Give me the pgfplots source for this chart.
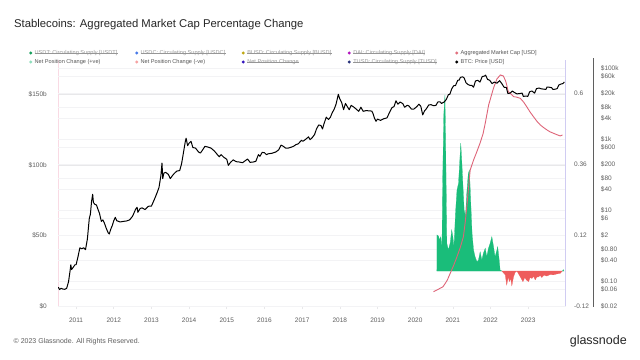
\documentclass[border=0pt]{standalone}
\usepackage{pgfplots}
\pgfplotsset{compat=1.18}
\usepackage{fontspec}
\setmainfont{Liberation Sans}
\definecolor{tickgray}{RGB}{95,95,95}
\definecolor{gridgray}{RGB}{232,232,234}
\definecolor{gridlight}{RGB}{243,243,245}
\definecolor{netpos}{RGB}{26,189,122}
\definecolor{netneg}{RGB}{238,92,92}
\definecolor{aggline}{RGB}{222,100,120}
\definecolor{axpurple}{RGB}{208,204,242}
\definecolor{axpink}{RGB}{249,218,228}
\definecolor{legtext}{RGB}{85,85,85}
\definecolor{legoff}{RGB}{150,150,150}
\definecolor{cUSDT}{RGB}{22,160,92}
\definecolor{cUSDC}{RGB}{72,122,232}
\definecolor{cBUSD}{RGB}{192,168,20}
\definecolor{cDAI}{RGB}{178,22,190}
\definecolor{cAGG}{RGB}{226,112,126}
\definecolor{cPOS}{RGB}{142,222,188}
\definecolor{cNEG}{RGB}{246,162,162}
\definecolor{cNPC}{RGB}{52,22,190}
\definecolor{cTUSD}{RGB}{40,50,122}
\pgfplotsset{
  base/.style={
    at={(58bp,53.5bp)}, anchor=south west, scale only axis,
    width=507.5bp, height=246.5bp,
    xmin=2010.52, xmax=2023.99,
    tick label style={font=\fontsize{6.5bp}{7bp}\selectfont, text=tickgray, inner sep=0pt},
  }
}
\newcommand{\legitem}[4]{% x, y, color, text
  \fill[#3] (#1,#2) circle (1.6);
  \node[anchor=west, inner sep=0pt, font=\fontsize{5.6bp}{6bp}\selectfont, text=legtext] at (#1+3.8,#2) {#4};
}
\newcommand{\legoff}[4]{%
  \fill[#3] (#1,#2) circle (1.6);
  \node[anchor=west, inner sep=0pt, font=\fontsize{5.6bp}{6bp}\selectfont, text=legoff] (lg) at (#1+3.8,#2) {#4};
  \draw[legoff, line width=0.35pt] (lg.west) -- (lg.east);
}
\begin{document}
\begin{tikzpicture}
\path[use as bounding box, fill=white] (0bp,0bp) rectangle (640bp,360bp);

% 1: left linear axis with grid and x ticks
\begin{axis}[base,
  ymin=0, ymax=174.3,
  axis x line*=bottom, axis y line*=left,
  x axis line style={-, draw=gridgray, line width=0.7pt},
  y axis line style={-, draw=axpink, line width=0.8pt},
  xtick={2011,2012,2013,2014,2015,2016,2017,2018,2019,2020,2021,2022,2023},
  xticklabels={2011,2012,2013,2014,2015,2016,2017,2018,2019,2020,2021,2022,2023},
  xtick style={draw=gridgray, line width=0.6pt},
  major tick length=3bp, tick align=outside,
  xticklabel style={yshift=-8.5bp},
  ytick={0,50,100,150}, yticklabels={\$0,\$50b,\$100b,\$150b},
  ytick style={draw=none},
  yticklabel style={xshift=-8bp},
  ymajorgrids, major grid style={draw=gridgray, line width=0.7pt},
]
\end{axis}

% 2: BTC log axis: grid and labels
\begin{axis}[base,
  ymode=log, ymin=0.02, ymax=175700,
  axis y line*=right, axis x line=none,
  y axis line style={draw=none},
  ytick={0.02,0.06,0.1,0.4,0.8,2,6,10,40,80,200,600,1000,4000,8000,20000,60000,100000},
  yticklabels={\$0.02,\$0.06,\$0.10,\$0.40,\$0.80,\$2,\$6,\$10,\$40,\$80,\$200,\$600,\$1k,\$4k,\$8k,\$20k,\$60k,\$100k},
  ytick style={draw=none},
  yticklabel style={anchor=west, xshift=35.2bp},
  ymajorgrids, major grid style={draw=gridlight, line width=0.6pt},
]
\end{axis}

% 3: percentage axis with net position areas
\begin{axis}[base,
  ymin=-0.12, ymax=0.7133,
  axis y line*=right, axis x line=none,
  y axis line style={-, draw=axpurple, line width=0.8pt},
  ytick={-0.12,0.12,0.36,0.6}, yticklabels={-0.12,0.12,0.36,0.6},
  ytick style={draw=none},
  yticklabel style={anchor=west, xshift=8.5bp},
]
\addplot[fill=netpos, draw=netpos, line width=0.2pt] coordinates {
(2020.575,0) (2020.578,0.122) (2020.62,0.118) (2020.645,0.105) (2020.68,0.116) (2020.71,0.071)
(2020.73,0.31) (2020.76,0.53) (2020.79,0.595) (2020.81,0.42) (2020.84,0.094) (2020.88,0.071)
(2020.93,0.095) (2020.97,0.139) (2021.0,0.116) (2021.03,0.082) (2021.07,0.195) (2021.11,0.274)
(2021.15,0.296) (2021.175,0.352) (2021.21,0.432) (2021.24,0.364) (2021.265,0.296) (2021.30,0.206)
(2021.335,0.184) (2021.37,0.263) (2021.41,0.33) (2021.44,0.341) (2021.48,0.217) (2021.51,0.127)
(2021.55,0.071) (2021.59,0.048) (2021.64,0.031) (2021.68,0.037) (2021.725,0.065) (2021.77,0.037)
(2021.81,0.06) (2021.86,0.077) (2021.90,0.048) (2021.945,0.077) (2021.99,0.094) (2022.035,0.116)
(2022.08,0.082) (2022.12,0.048) (2022.17,0.071) (2022.19,0.082) (2022.23,0.037) (2022.255,0.003)
(2022.30,0)
} \closedcycle;
\addplot[fill=netneg, draw=netneg, line width=0.2pt] coordinates {
(2022.30,0) (2022.39,-0.013) (2022.43,-0.047) (2022.47,-0.02) (2022.50,-0.036) (2022.535,-0.025)
(2022.565,-0.05) (2022.61,-0.02) (2022.65,-0.005) (2022.70,0) (2022.745,-0.01) (2022.79,-0.02)
(2022.86,-0.036) (2022.91,-0.022) (2022.95,-0.03) (2023.01,-0.036) (2023.05,-0.022) (2023.10,-0.025)
(2023.145,-0.018) (2023.185,-0.03) (2023.23,-0.02) (2023.27,-0.02) (2023.32,-0.015) (2023.36,-0.022)
(2023.42,-0.014) (2023.495,-0.017) (2023.58,-0.012) (2023.67,-0.013) (2023.755,-0.01) (2023.85,-0.008)
(2023.89,-0.002) (2023.91,0)
} \closedcycle;
\addplot[fill=netpos, draw=netpos, line width=0.2pt] coordinates {
(2023.91,0) (2023.93,0.005) (2023.95,0)
} \closedcycle;
\end{axis}

% 4: aggregated market cap line
\begin{axis}[base, hide axis, ymin=0, ymax=174.3]
\addplot[aggline, line width=0.9pt] coordinates {
(2020.485,10.5) (2020.6,12.0) (2020.74,14.0) (2020.85,18.5) (2020.93,23.5) (2021.02,29.0)
(2021.11,35.2) (2021.2,42.0) (2021.28,49.4) (2021.33,60.0) (2021.37,70.6) (2021.42,85.0)
(2021.46,96.5) (2021.55,103.6) (2021.63,109.0) (2021.72,115.4) (2021.8,122.0) (2021.86,129.6)
(2021.95,142.5) (2022.02,149.0) (2022.08,154.5) (2022.17,160.9) (2022.26,163.7) (2022.34,163.0)
(2022.40,159.5) (2022.43,156.6) (2022.47,152.0) (2022.52,150.8) (2022.61,148.4) (2022.70,148.0)
(2022.79,147.2) (2022.88,144.5) (2022.96,141.3) (2023.05,137.5) (2023.14,134.2) (2023.23,131.0)
(2023.32,128.4) (2023.41,126.5) (2023.5,124.8) (2023.58,123.5) (2023.67,122.5) (2023.76,121.5)
(2023.85,120.6) (2023.91,121.3)
};
\end{axis}

% 5: BTC price line
\begin{axis}[base, hide axis, ymode=log, ymin=0.02, ymax=175700]
\addplot[black, line width=1.0pt, line join=round] coordinates {
(2010.53,0.07) (2010.56,0.06) (2010.6,0.065) (2010.65,0.062) (2010.7,0.061) (2010.75,0.065)
(2010.8,0.1) (2010.84,0.2) (2010.86,0.3) (2010.88,0.22) (2010.92,0.25) (2010.97,0.3)
(2011.0,0.3) (2011.05,0.5) (2011.1,0.9) (2011.15,0.85) (2011.2,0.9) (2011.25,0.8)
(2011.3,1.6) (2011.35,6) (2011.38,8) (2011.41,18) (2011.44,29) (2011.46,17)
(2011.5,15) (2011.54,14.5) (2011.58,11) (2011.62,8.5) (2011.67,5) (2011.71,5.5)
(2011.75,4.5) (2011.8,3.2) (2011.85,2.4) (2011.88,2.2) (2011.92,3) (2011.96,3.8)
(2012.0,5.2) (2012.04,6.5) (2012.08,5.2) (2012.13,5) (2012.17,4.8) (2012.25,5)
(2012.33,5.1) (2012.42,5.5) (2012.5,7) (2012.58,11) (2012.62,12.5) (2012.64,9)
(2012.7,11.5) (2012.75,12) (2012.83,10.8) (2012.92,13.3) (2013.0,13.5) (2013.08,21)
(2013.15,32) (2013.2,45) (2013.25,95) (2013.28,220) (2013.3,80) (2013.33,115)
(2013.38,120) (2013.45,105) (2013.5,80) (2013.55,95) (2013.6,110) (2013.67,130)
(2013.75,135) (2013.8,210) (2013.86,500) (2013.9,900) (2013.92,1100) (2013.96,680)
(2014.0,800) (2014.05,900) (2014.1,600) (2014.17,580) (2014.25,450) (2014.3,420)
(2014.35,500) (2014.42,650) (2014.5,620) (2014.58,580) (2014.67,480) (2014.75,380)
(2014.8,330) (2014.85,380) (2014.92,320) (2015.0,280) (2015.04,190) (2015.1,230)
(2015.17,270) (2015.25,240) (2015.33,235) (2015.42,225) (2015.5,260) (2015.55,285)
(2015.62,230) (2015.7,235) (2015.77,245) (2015.84,380) (2015.88,340) (2015.94,440)
(2016.0,430) (2016.05,380) (2016.1,400) (2016.2,415) (2016.3,450) (2016.38,520)
(2016.44,700) (2016.5,650) (2016.56,580) (2016.62,575) (2016.7,610) (2016.77,650)
(2016.83,720) (2016.9,770) (2016.98,960) (2017.02,900) (2017.08,1000) (2017.17,1200)
(2017.21,1000) (2017.27,1150) (2017.33,1400) (2017.38,2000) (2017.44,2600) (2017.5,2500)
(2017.54,2000) (2017.58,2800) (2017.64,4300) (2017.7,3700) (2017.75,4300) (2017.8,5800)
(2017.85,7200) (2017.9,10000) (2017.96,19000) (2018.0,14000) (2018.05,11000) (2018.1,7000)
(2018.15,10500) (2018.2,8500) (2018.25,7000) (2018.3,9300) (2018.37,8300) (2018.42,7500)
(2018.5,6300) (2018.56,8200) (2018.62,6300) (2018.7,6600) (2018.77,6500) (2018.85,6400)
(2018.88,5500) (2018.92,4000) (2018.96,3300) (2019.0,3800) (2019.08,3500) (2019.17,3900)
(2019.25,4100) (2019.3,5300) (2019.38,7900) (2019.44,8600) (2019.49,12500) (2019.54,10000)
(2019.6,11500) (2019.67,10400) (2019.72,8200) (2019.79,9300) (2019.83,9000) (2019.9,7300)
(2019.96,7200) (2020.04,8500) (2020.1,10000) (2020.15,8700) (2020.2,5000) (2020.25,6500)
(2020.3,7500) (2020.36,9500) (2020.42,9700) (2020.48,9100) (2020.55,9200) (2020.6,11500)
(2020.66,11700) (2020.7,10500) (2020.77,11500) (2020.83,13800) (2020.88,18500) (2020.92,19000)
(2020.97,27000) (2021.02,33000) (2021.07,33500) (2021.13,47000) (2021.17,48000) (2021.2,57000)
(2021.26,59000) (2021.3,55000) (2021.35,40000) (2021.4,36000) (2021.45,34000) (2021.5,34000)
(2021.55,30000) (2021.6,45000) (2021.66,47000) (2021.72,42000) (2021.78,60000) (2021.84,62000)
(2021.87,66000) (2021.92,50000) (2021.98,47000) (2022.04,38000) (2022.1,42000) (2022.17,39000)
(2022.24,46000) (2022.3,38000) (2022.36,30000) (2022.42,29500) (2022.46,20000) (2022.52,20500)
(2022.58,23500) (2022.63,21500) (2022.7,19500) (2022.78,20000) (2022.84,20500) (2022.87,16500)
(2022.93,17000) (2022.99,16600) (2023.04,22500) (2023.1,23500) (2023.17,20500) (2023.22,27500)
(2023.29,28500) (2023.35,27000) (2023.42,26500) (2023.47,26000) (2023.5,30500) (2023.56,30000)
(2023.62,29200) (2023.66,26000) (2023.72,26500) (2023.77,27500) (2023.81,34500) (2023.87,37000)
(2023.92,38000) (2023.96,42000)
};
\end{axis}

\begin{scope}[x=1bp,y=1bp]
% BTC axis line
\draw[tickgray, line width=0.6pt] (593.3,53) -- (593.3,302);

% title
\node[anchor=base west, inner sep=0pt, font=\fontsize{11.3bp}{13bp}\selectfont, text=black!85] at (14,332.7) {Stablecoins: Aggregated Market Cap Percentage Change};

% legend
\legoff{30.7}{307}{cUSDT}{USDT: Circulating Supply [USDT]}
\legoff{136.7}{307}{cUSDC}{USDC: Circulating Supply [USDC]}
\legoff{243.3}{307}{cBUSD}{BUSD: Circulating Supply [BUSD]}
\legoff{349.3}{307}{cDAI}{DAI: Circulating Supply [DAI]}
\legitem{456.7}{307}{cAGG}{Aggregated Market Cap [USD]}
\legitem{30.7}{298}{cPOS}{Net Position Change (+ve)}
\legitem{136.7}{298}{cNEG}{Net Position Change (-ve)}
\legoff{243.3}{298}{cNPC}{Net Position Change}
\legoff{349.3}{298}{cTUSD}{TUSD: Circulating Supply [TUSD]}
\legitem{456.7}{298}{black}{BTC: Price [USD]}

% footer
\node[anchor=west, inner sep=0pt, font=\fontsize{7bp}{8bp}\selectfont, text=tickgray] at (13.5,18) {\textcopyright{} 2023 Glassnode. All Rights Reserved.};
\node[anchor=base east, inner sep=0pt, font=\fontsize{12.5bp}{14bp}\selectfont, text=black!85] at (627,16) {glassnode};
\end{scope}
\end{tikzpicture}
\end{document}
